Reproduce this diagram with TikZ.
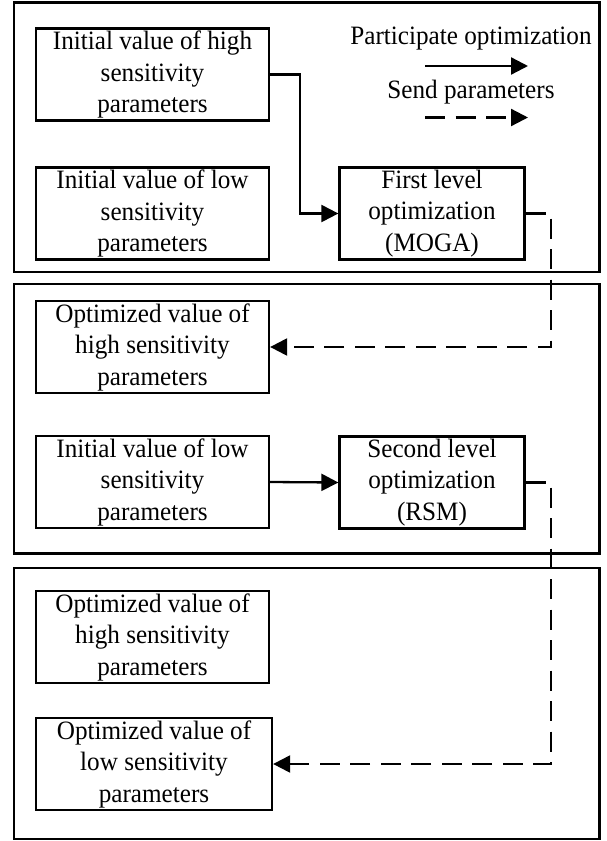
\documentclass[tikz,border=0pt]{standalone}
\usepackage{fontspec}
\setmainfont[FakeStretch=0.95]{Liberation Serif}
\usetikzlibrary{arrows.meta}
\begin{document}
\begin{tikzpicture}[x=1pt,y=-1pt,
  txt/.style={font=\fontsize{26.5}{31.5}\selectfont, align=center, inner sep=0pt},
  box/.style={txt, draw, line width=2.3pt, minimum height=92pt},
  widebox/.style={box, minimum width=233pt},
  optbox/.style={box, minimum width=185pt},
  panel/.style={draw, line width=2.3pt},
  flow/.style={line width=2.3pt, -{Triangle[length=17pt,width=17pt]}},
  send/.style={flow, dash pattern=on 20pt off 10.5pt}]
\useasboundingbox (0,0) rectangle (606,841);

% three stage panels
\draw[panel] (14,2.5) rectangle (599.5,271.7);
\draw[panel] (14,284) rectangle (599.5,553.5);
\draw[panel] (14,568) rectangle (599.5,839);

% stage 1
\node[widebox] (A) at (152.5,74.5) {Initial value of high\\sensitivity\\parameters};
\node[widebox] (B) at (152.5,213.5) {Initial value of low\\sensitivity\\parameters};
\node[optbox]  (C) at (432,213.5) {First level\\optimization\\(MOGA)};

% legend
\node[txt] (L1) at (471,39) {Participate optimization};
\coordinate (l1s) at (425,66);
\coordinate (l1e) at (528,66);
\node[txt] (L2) at (471,92) {Send parameters};
\coordinate (l2s) at (425,117.5);
\coordinate (l2e) at (528,117.5);
\draw[flow] (l1s) -- (l1e);
\draw[send] (l2s) -- (l2e);

% stage 2
\node[widebox] (D) at (152.5,347) {Optimized value of\\high sensitivity\\parameters};
\node[widebox] (E) at (152.5,482) {Initial value of low\\sensitivity\\parameters};
\node[optbox]  (F) at (432,482.5) {Second level\\optimization\\(RSM)};

% stage 3
\node[widebox] (G) at (152.5,637) {Optimized value of\\high sensitivity\\parameters};
\node[widebox, minimum width=236pt] (H) at (154,764) {Optimized value of\\low sensitivity\\parameters};

% connectors
\draw[flow] (A.east) -- ++(30,0) |- (C.west);
\draw[send] (C.east) -- ++(25.5,0) |- (D.east);
\draw[flow] (E.east) -- (F.west);
\draw[send] (F.east) -- ++(25.5,0) |- (H.east);
\end{tikzpicture}
\end{document}
